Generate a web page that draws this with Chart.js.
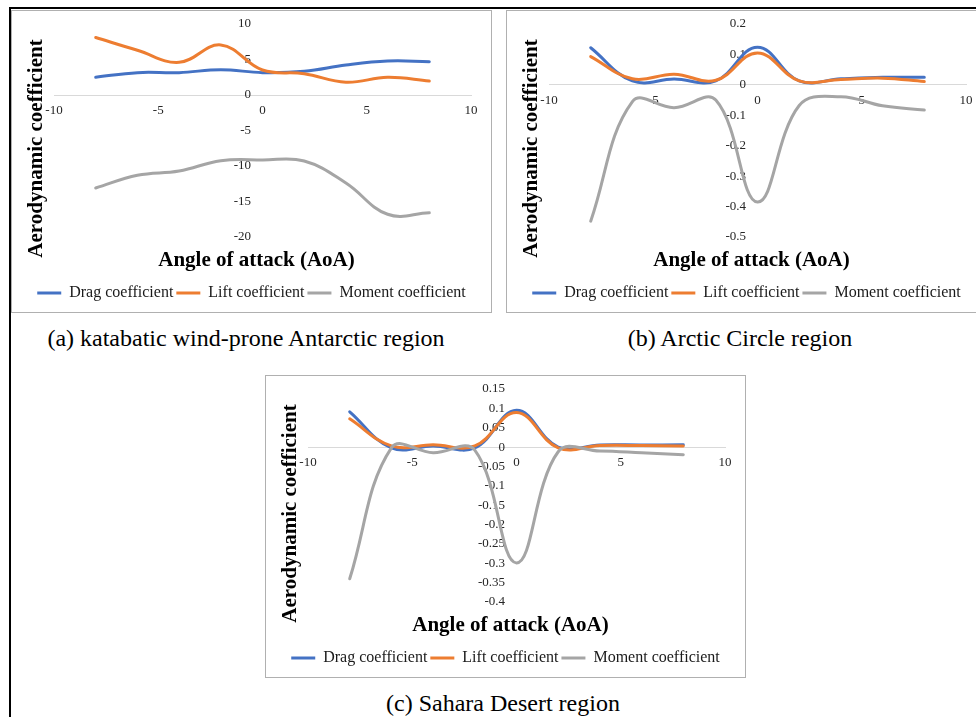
<!DOCTYPE html>
<html>
<head>
<meta charset="utf-8">
<title>Aerodynamic coefficients</title>
<script src="https://cdn.jsdelivr.net/npm/chart.js@4.4.1/dist/chart.umd.min.js"></script>
<style>
  html, body { margin: 0; padding: 0; background: #fff; overflow: hidden; }
  body { position: relative; width: 976px; height: 717px; font-family: "Liberation Serif", "Times New Roman", serif; }
  #frame { position: absolute; left: 9px; top: 7px; width: 1100px; height: 900px; border-left: 2px solid #000; border-top: 2px solid #000; }
  .panel { position: absolute; width: 481px; height: 303px; border: 1px solid #b0b0b0; box-sizing: border-box; background: #fff; }
  .panel canvas { position: absolute; left: 0; top: 0; }
  .caption { position: absolute; width: 480px; margin-left: -240px; text-align: center; font-size: 24px; line-height: 28px; color: #000; white-space: nowrap; }
</style>
</head>
<body>
<div id="frame"></div>
<div class="panel" style="left:11px; top:10px;"><canvas id="chart-a" width="479" height="301"></canvas></div>
<div class="panel" style="left:506px; top:10px;"><canvas id="chart-b" width="479" height="301"></canvas></div>
<div class="panel" style="left:265px; top:375px;"><canvas id="chart-c" width="479" height="301"></canvas></div>
<div class="caption" style="left:246px; top:324px;">(a) katabatic wind-prone Antarctic region</div>
<div class="caption" style="left:740px; top:324px;">(b) Arctic Circle region</div>
<div class="caption" style="left:503px; top:689px;">(c) Sahara Desert region</div>
<script>
// angles of attack (x values) shared by all three panels
let angles = [-8, -6, -4, -2, 0, 2, 4, 6, 8]
let seriesNames = ['Drag coefficient', 'Lift coefficient', 'Moment coefficient']
let seriesColors = ['#4472c4', '#ed7d31', '#a5a5a5']
let xTicks = [-10, -5, 0, 5, 10]

// (a) katabatic wind-prone Antarctic region
let dragA = [2.5, 3.15, 3.15, 3.57, 3.15, 3.34, 4.22, 4.78, 4.7]
let liftA = [8.1, 6.3, 4.6, 7.05, 3.52, 3.0, 1.8, 2.5, 1.97]
let momentA = [-13.1, -11.3, -10.7, -9.25, -9.15, -9.3, -12.4, -16.8, -16.6]
let yTicksA = [10, 5, 0, -5, -10, -15, -20]

// (b) Arctic Circle region
let dragB = [0.122, 0.013, 0.019, 0.013, 0.124, 0.013, 0.02, 0.025, 0.025]
let liftB = [0.093, 0.02, 0.035, 0.015, 0.105, 0.013, 0.0175, 0.022, 0.011]
let momentB = [-0.448, -0.055, -0.075, -0.05, -0.385, -0.068, -0.039, -0.069, -0.083]
let yTicksB = [0.2, 0.1, 0, -0.1, -0.2, -0.3, -0.4, -0.5]

// (c) Sahara Desert region
let dragC = [0.091, -0.002, 0.003, -0.002, 0.095, 0.0, 0.0055, 0.0055, 0.006]
let liftC = [0.073, 0.003, 0.006, 0.003, 0.089, -0.002, 0.004, 0.004, 0.003]
let momentC = [-0.34, -0.002, -0.0145, -0.008, -0.299, -0.012, -0.010, -0.0145, -0.0197]
let yTicksC = [0.15, 0.1, 0.05, 0, -0.05, -0.1, -0.15, -0.2, -0.25, -0.3, -0.35, -0.4]

let xTitle = 'Angle of attack (AoA)'
let yTitle = 'Aerodynamic coefficient'
let serif = '"Liberation Serif", "Times New Roman", serif'
// the y tick labels sit just left of x = 0, like Excel does it
let yLabelAxisAt = -0.55

// extra layout strips round the plot area: the rotated y title on the left,
// the x title under the plot, and a blank inset on the right
let titleStrips = {
    id: 'titleStrips',
    beforeInit(chart) {
        let ctx = chart.ctx
        let strip = (position, size, paint) => Chart.layouts.addBox(chart, {
            position: position, weight: 0, fullSize: false, options: {},
            isHorizontal() { return position === 'top' || position === 'bottom' },
            update(maxWidth, maxHeight) {
                if (this.isHorizontal()) { this.width = maxWidth; this.height = size }
                else { this.width = size; this.height = maxHeight }
            },
            draw() { if (paint) paint(this) }
        })
        strip('left', 42, box => {
            ctx.save()
            ctx.translate(box.left + 25, (box.top + box.bottom) / 2 + 18)
            ctx.rotate(-Math.PI / 2)
            ctx.font = 'bold 21px ' + serif
            ctx.fillStyle = '#000'
            ctx.textAlign = 'center'
            ctx.textBaseline = 'middle'
            ctx.fillText(yTitle, 0, 0)
            ctx.restore()
        })
        strip('bottom', 45, box => {
            ctx.save()
            ctx.font = 'bold 21px ' + serif
            ctx.fillStyle = '#000'
            ctx.textAlign = 'center'
            ctx.textBaseline = 'middle'
            ctx.fillText(xTitle, (box.left + box.right) / 2 - 6, box.top + 24)
            ctx.restore()
        })
        strip('right', 20)
    }
}

// builds one panel from its three series and its y tick list
function drawPanel(canvasId, drag, lift, moment, yTicks) {
    let values = [drag, lift, moment]
    let datasets = values.map((series, i) => ({
        label: seriesNames[i],
        data: angles.map((a, j) => ({x: a, y: series[j]})),
        borderColor: seriesColors[i],
        backgroundColor: seriesColors[i],
        borderWidth: 3,
        borderCapStyle: 'round',
        borderJoinStyle: 'round',
        tension: 0.4,
        pointRadius: 0,
        pointHoverRadius: 0,
        pointStyle: 'line',
        pointBorderWidth: 3,
        // later series are painted on top, as in Excel
        order: values.length - i
    }))
    let tickFont = {family: serif, size: 13}
    return new Chart(document.getElementById(canvasId), {
        type: 'line',
        data: {datasets: datasets},
        options: {
            responsive: false,
            animation: false,
            devicePixelRatio: 1,
            events: [],
            layout: {padding: {top: 13, bottom: 1}},
            scales: {
                x: {
                    type: 'linear',
                    position: {y: 0},
                    min: xTicks[0],
                    max: xTicks[xTicks.length - 1],
                    afterBuildTicks: axis => { axis.ticks = xTicks.map(v => ({value: v})) },
                    grid: {display: false, drawTicks: false},
                    border: {display: true, color: '#d9d9d9', width: 1},
                    ticks: {font: tickFont, color: '#262626', padding: 8, maxRotation: 0, autoSkip: false, callback: v => String(v)}
                },
                y: {
                    type: 'linear',
                    position: {x: yLabelAxisAt},
                    min: Math.min(...yTicks),
                    max: Math.max(...yTicks),
                    afterBuildTicks: axis => { axis.ticks = yTicks.map(v => ({value: v})) },
                    grid: {display: false, drawTicks: false},
                    border: {display: false},
                    ticks: {font: tickFont, color: '#262626', padding: 0, autoSkip: false, callback: v => String(v)}
                }
            },
            plugins: {
                legend: {
                    position: 'bottom',
                    labels: {
                        usePointStyle: true,
                        pointStyleWidth: 24,
                        padding: 3,
                        font: {family: serif, size: 16},
                        color: '#1a1a1a',
                        sort: (a, b) => a.datasetIndex - b.datasetIndex
                    }
                },
                tooltip: {enabled: false}
            }
        },
        plugins: [titleStrips]
    })
}

drawPanel('chart-a', dragA, liftA, momentA, yTicksA)
drawPanel('chart-b', dragB, liftB, momentB, yTicksB)
drawPanel('chart-c', dragC, liftC, momentC, yTicksC)
</script>
</body>
</html>
